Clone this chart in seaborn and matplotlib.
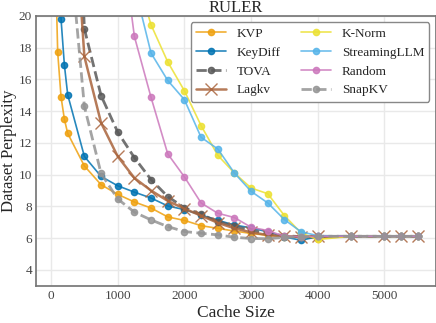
import numpy as np
import pandas as pd
import seaborn as sns
import matplotlib
matplotlib.use("Agg")
import matplotlib.pyplot as plt

# cache sizes shared by the tail of every curve
tail_x = [4500, 5000, 5250, 5500]
tail_y = [6.12, 6.12, 6.12, 6.12]

kvp_x = [50, 100, 150, 200, 250, 500, 750, 1000, 1250, 1500, 1750, 2000, 2250, 2500,
         2750, 3000, 3250, 3500, 3750, 4000] + tail_x
kvp_y = [26.0, 17.7, 14.9, 13.5, 12.6, 10.55, 9.37, 8.76, 8.28, 7.9, 7.34, 7.12, 6.79, 6.62,
         6.45, 6.3, 6.18, 6.1, 6.05, 5.98] + tail_y

keydiff_x = [100, 150, 200, 250, 500, 750, 1000, 1250, 1500, 1750, 2000, 2250, 2500,
             2750, 3000, 3250, 3500, 3750, 4000] + tail_x
keydiff_y = [30.0, 19.8, 16.92, 15.03, 11.15, 9.89, 9.3, 8.9, 8.53, 8.03, 7.8, 7.46, 7.13,
             6.83, 6.65, 6.4, 6.08, 5.87, 6.1] + tail_y

tova_x = [250, 500, 750, 1000, 1250, 1500, 1750, 2000, 2250, 2500,
          2750, 3000, 3250, 3500, 3750, 4000] + tail_x
tova_y = [45.0, 19.18, 14.98, 12.68, 11.07, 9.69, 8.62, 7.92, 7.5, 7.05,
          6.75, 6.5, 6.3, 6.15, 6.1, 6.12] + tail_y

lagkv_x = [250, 500, 750, 1000, 1250, 1500, 1750, 2000, 2250, 2500,
           2750, 3000, 3250, 3500, 3750, 4000] + tail_x
lagkv_y = [33.0, 17.44, 13.27, 11.15, 9.79, 9.0, 8.35, 7.86, 7.42, 6.97,
           6.62, 6.37, 6.2, 6.12, 6.1, 6.12] + tail_y

knorm_x = [1250, 1500, 1750, 2000, 2250, 2500, 2750, 3000, 3250, 3500, 3750, 4000] + tail_x
knorm_y = [23.0, 19.43, 17.1, 15.28, 13.09, 11.22, 10.1, 9.16, 8.8, 7.42, 6.33, 5.92] + tail_y

streaming_x = [1250, 1500, 1750, 2000, 2250, 2500, 2750, 3000, 3250, 3500, 3750, 4000] + tail_x
streaming_y = [21.9, 17.65, 15.93, 14.72, 12.35, 11.62, 10.1, 8.95, 8.22, 7.17, 6.4, 6.16] + tail_y

random_x = [1000, 1250, 1500, 1750, 2000, 2250, 2500, 2750, 3000, 3250, 3500, 3750, 4000] + tail_x
random_y = [26.8, 18.7, 14.86, 11.31, 9.86, 8.22, 7.57, 7.3, 6.69, 6.48, 6.12, 6.1, 6.12] + tail_y

snapkv_x = [250, 500, 750, 1000, 1250, 1500, 1750, 2000, 2250, 2500,
            2750, 3000, 3250, 3500, 3750, 4000] + tail_x
snapkv_y = [25.7, 14.3, 10.08, 8.47, 7.64, 7.15, 6.73, 6.42, 6.31, 6.21,
            6.06, 5.98, 5.97, 6.05, 6.1, 6.12] + tail_y

sns.set_theme(style="whitegrid")
plt.rcParams["font.family"] = ["Liberation Serif", "DejaVu Serif"]
plt.rcParams["axes.edgecolor"] = "#777777"
plt.rcParams["grid.color"] = "#e9e9e9"

fig = plt.figure(figsize=(4.36, 3.23), dpi=100)
ax = fig.add_axes([0.083, 0.115, 0.917, 0.836])

series = [
    ("KVP", kvp_x, kvp_y, "#EFA10F", "-", 1.2, "o", 4.5),
    ("KeyDiff", keydiff_x, keydiff_y, "#0173B2", "-", 1.2, "o", 4.5),
    ("TOVA", tova_x, tova_y, "#5a5a5a", "--", 2.0, "o", 4.5),
    ("Lagkv", lagkv_x, lagkv_y, "#a9643c", "-", 1.8, "x", 8),
    ("K-Norm", knorm_x, knorm_y, "#ECE133", "-", 1.2, "o", 4.5),
    ("StreamingLLM", streaming_x, streaming_y, "#56B4E9", "-", 1.2, "o", 4.5),
    ("Random", random_x, random_y, "#CC78BC", "-", 1.2, "o", 4.5),
    ("SnapKV", snapkv_x, snapkv_y, "#949494", "--", 2.0, "o", 4.5),
]

for name, xs, ys, col, ls, lw, mk, ms in series:
    sns.lineplot(x=xs, y=ys, ax=ax, color=col, linestyle=ls, linewidth=lw,
                 marker=mk, markersize=ms, markeredgewidth=1, markeredgecolor=col,
                 alpha=0.85, label=name)

ax.set_ylim(3, 20)
ax.set_xticks([0, 1000, 2000, 3000, 4000, 5000])
ax.set_yticks([4, 6, 8, 10, 12, 14, 16, 18, 20])
ax.tick_params(labelsize=9.5, length=0, pad=3, colors="#444444")
ax.set_xlabel("Cache Size", fontsize=12.5, labelpad=2)
ax.set_ylabel("Dataset Perplexity", fontsize=12, labelpad=1)
ax.set_title("RULER", fontsize=12, pad=3)
ax.legend(loc="upper right", ncol=2, fontsize=9.5, handlelength=2.3,
          edgecolor="#888888", framealpha=1, columnspacing=1.5)

fig.savefig("out.png", dpi=100)
